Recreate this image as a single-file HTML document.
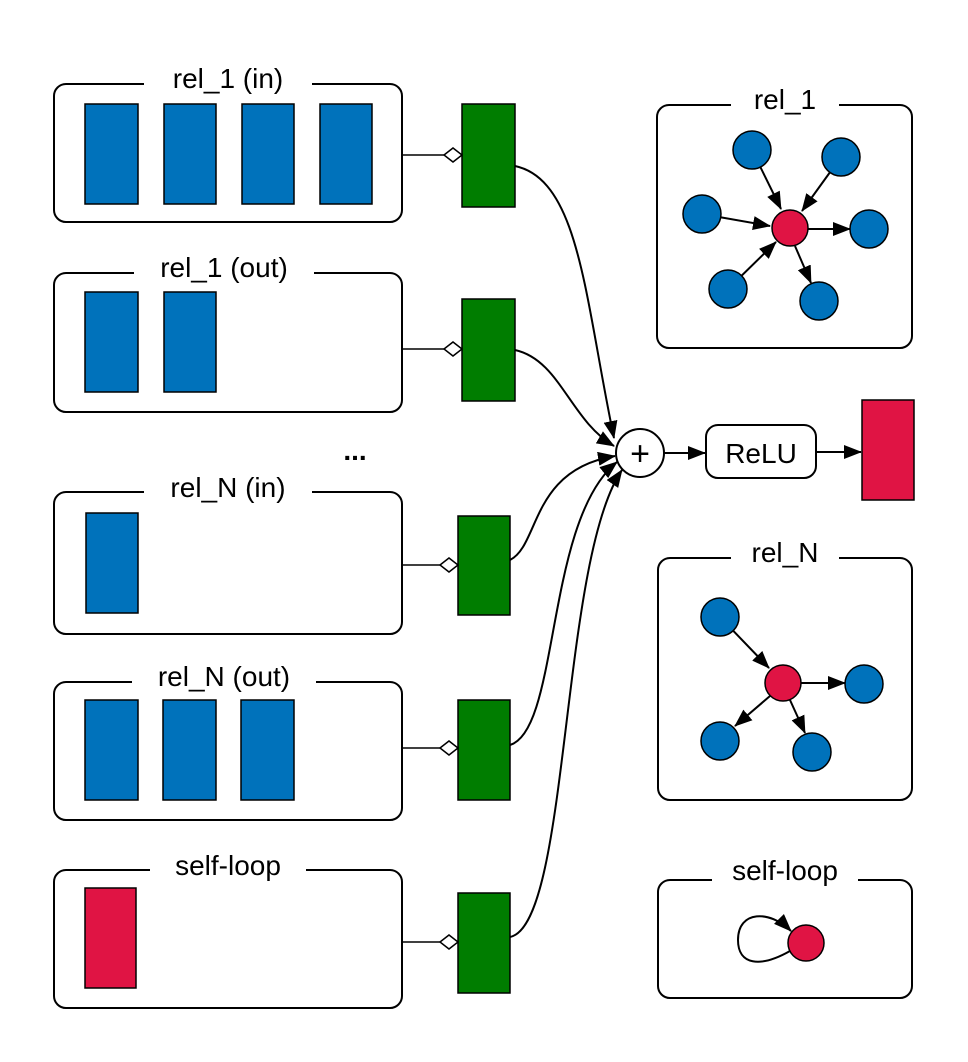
<!DOCTYPE html>
<html><head><meta charset="utf-8"><style>
body{margin:0;background:#fff;}
svg{display:block;font-family:"Liberation Sans",Arial,sans-serif;}
</style></head><body>
<svg width="968" height="1062" viewBox="0 0 968 1062" xmlns="http://www.w3.org/2000/svg">
<defs>
<marker id="ah" markerWidth="18" markerHeight="14" refX="17" refY="7" orient="auto" markerUnits="userSpaceOnUse" viewBox="0 0 18 14">
<path d="M0,0 L18,7 L0,14 z" fill="#000"/></marker>
<marker id="ahb" markerWidth="18" markerHeight="14" refX="17" refY="7" orient="auto" markerUnits="userSpaceOnUse" viewBox="0 0 18 14">
<path d="M0,0 L18,7 L0,14 z" fill="#000"/></marker>
</defs>
<g fill="none" stroke="#000" stroke-width="2">
<rect x="54" y="84" width="348" height="138" rx="12"/>
<rect x="54" y="273" width="348" height="139" rx="12"/>
<rect x="54" y="492" width="348" height="142" rx="12"/>
<rect x="54" y="682" width="348" height="138" rx="12"/>
<rect x="54" y="870" width="348" height="138" rx="12"/>
<rect x="657" y="105" width="255" height="243" rx="12"/>
<rect x="658" y="558" width="254" height="242" rx="12"/>
<rect x="658" y="880" width="254" height="118" rx="12"/>
</g>
<g fill="#fff">
<rect x="144" y="76" width="168" height="14"/>
<rect x="134" y="265" width="180" height="14"/>
<rect x="144" y="484" width="168" height="14"/>
<rect x="132" y="674" width="184" height="14"/>
<rect x="150" y="862" width="156" height="14"/>
<rect x="731" y="97" width="108" height="14"/>
<rect x="731" y="550" width="108" height="14"/>
<rect x="712" y="872" width="146" height="14"/>
</g>
<g font-size="28" text-anchor="middle" fill="#000">
<text x="228" y="88">rel_1 (in)</text>
<text x="224" y="277">rel_1 (out)</text>
<text x="228" y="497">rel_N (in)</text>
<text x="224" y="686">rel_N (out)</text>
<text x="228" y="875">self-loop</text>
<text x="785" y="109">rel_1</text>
<text x="785" y="562">rel_N</text>
<text x="785" y="880">self-loop</text>
<text x="355" y="460" font-weight="bold">...</text>
</g>
<g fill="#0072bb" stroke="#000" stroke-width="1.5">
<rect x="85" y="104" width="53" height="100"/>
<rect x="164" y="104" width="52" height="100"/>
<rect x="242" y="104" width="52" height="100"/>
<rect x="320" y="104" width="52" height="100"/>
<rect x="85" y="292" width="53" height="100"/>
<rect x="164" y="292" width="52" height="100"/>
<rect x="86" y="513" width="52" height="100"/>
<rect x="85" y="700" width="53" height="100"/>
<rect x="163" y="700" width="53" height="100"/>
<rect x="241" y="700" width="53" height="100"/>
</g>
<rect x="85" y="888" width="51" height="100" fill="#e01444" stroke="#000" stroke-width="1.5"/>
<g fill="#007d00" stroke="#000" stroke-width="1.5">
<rect x="462" y="104" width="53" height="103"/>
<rect x="462" y="299" width="53" height="102"/>
<rect x="458" y="516" width="52" height="99"/>
<rect x="458" y="700" width="52" height="100"/>
<rect x="458" y="893" width="52" height="100"/>
</g>
<g stroke="#000" stroke-width="1.5" fill="#fff">
<line x1="402" y1="155" x2="444" y2="155"/><path d="M444,155 l9,-7 l9,7 l-9,7z"/>
<line x1="402" y1="349" x2="444" y2="349"/><path d="M444,349 l9,-7 l9,7 l-9,7z"/>
<line x1="402" y1="565" x2="440" y2="565"/><path d="M440,565 l9,-7 l9,7 l-9,7z"/>
<line x1="402" y1="748" x2="440" y2="748"/><path d="M440,748 l9,-7 l9,7 l-9,7z"/>
<line x1="402" y1="942" x2="440" y2="942"/><path d="M440,942 l9,-7 l9,7 l-9,7z"/>
</g>
<g fill="none" stroke="#000" stroke-width="2" marker-end="url(#ahb)">
<path d="M515,166 C580,180 585,300 614,438"/>
<path d="M515,350 C560,360 570,420 614,446"/>
<path d="M510,560 C540,545 530,470 615,456"/>
<path d="M510,745 C560,730 545,520 617,462"/>
<path d="M510,937 C570,925 560,560 622,470"/>
</g>
<circle cx="640" cy="453" r="24" fill="#fff" stroke="#000" stroke-width="2"/>
<text x="640" y="465" font-size="34" text-anchor="middle">+</text>
<line x1="664" y1="453" x2="705" y2="453" stroke="#000" stroke-width="2" marker-end="url(#ahb)"/>
<rect x="706" y="425" width="110" height="53" rx="12" fill="#fff" stroke="#000" stroke-width="2"/>
<text x="761" y="463" font-size="28" text-anchor="middle">ReLU</text>
<line x1="816" y1="452" x2="861" y2="452" stroke="#000" stroke-width="2" marker-end="url(#ahb)"/>
<rect x="862" y="400" width="52" height="100" fill="#e01444" stroke="#000" stroke-width="1.5"/>
<g stroke="#000" stroke-width="2" marker-end="url(#ah)">
<line x1="752" y1="150" x2="781" y2="209"/>
<line x1="841" y1="157" x2="802" y2="211"/>
<line x1="702" y1="214" x2="770" y2="226"/>
<line x1="808" y1="229" x2="850" y2="229"/>
<line x1="728" y1="289" x2="776" y2="242"/>
<line x1="795" y1="246" x2="811" y2="283"/>
</g>
<g stroke="#000" stroke-width="1.5" fill="#0072bb">
<circle cx="752" cy="150" r="19"/><circle cx="841" cy="157" r="19"/>
<circle cx="702" cy="214" r="19"/><circle cx="869" cy="229" r="19"/>
<circle cx="728" cy="289" r="19"/><circle cx="819" cy="301" r="19"/>
</g>
<circle cx="790" cy="228" r="18" fill="#e01444" stroke="#000" stroke-width="1.5"/>
<g stroke="#000" stroke-width="2" marker-end="url(#ah)">
<line x1="720" y1="617" x2="769" y2="668"/>
<line x1="801" y1="683" x2="845" y2="683"/>
<line x1="770" y1="696" x2="735" y2="726"/>
<line x1="790" y1="700" x2="805" y2="733"/>
</g>
<g stroke="#000" stroke-width="1.5" fill="#0072bb">
<circle cx="720" cy="617" r="19"/><circle cx="864" cy="684" r="19"/>
<circle cx="720" cy="741" r="19"/><circle cx="812" cy="752" r="19"/>
</g>
<circle cx="783" cy="683" r="18" fill="#e01444" stroke="#000" stroke-width="1.5"/>
<path d="M790,951 C760,968 738,965 738,940 C738,910 770,910 791,931" fill="none" stroke="#000" stroke-width="2" marker-end="url(#ah)"/>
<circle cx="806" cy="943" r="18" fill="#e01444" stroke="#000" stroke-width="1.5"/>
</svg>
</body></html>
